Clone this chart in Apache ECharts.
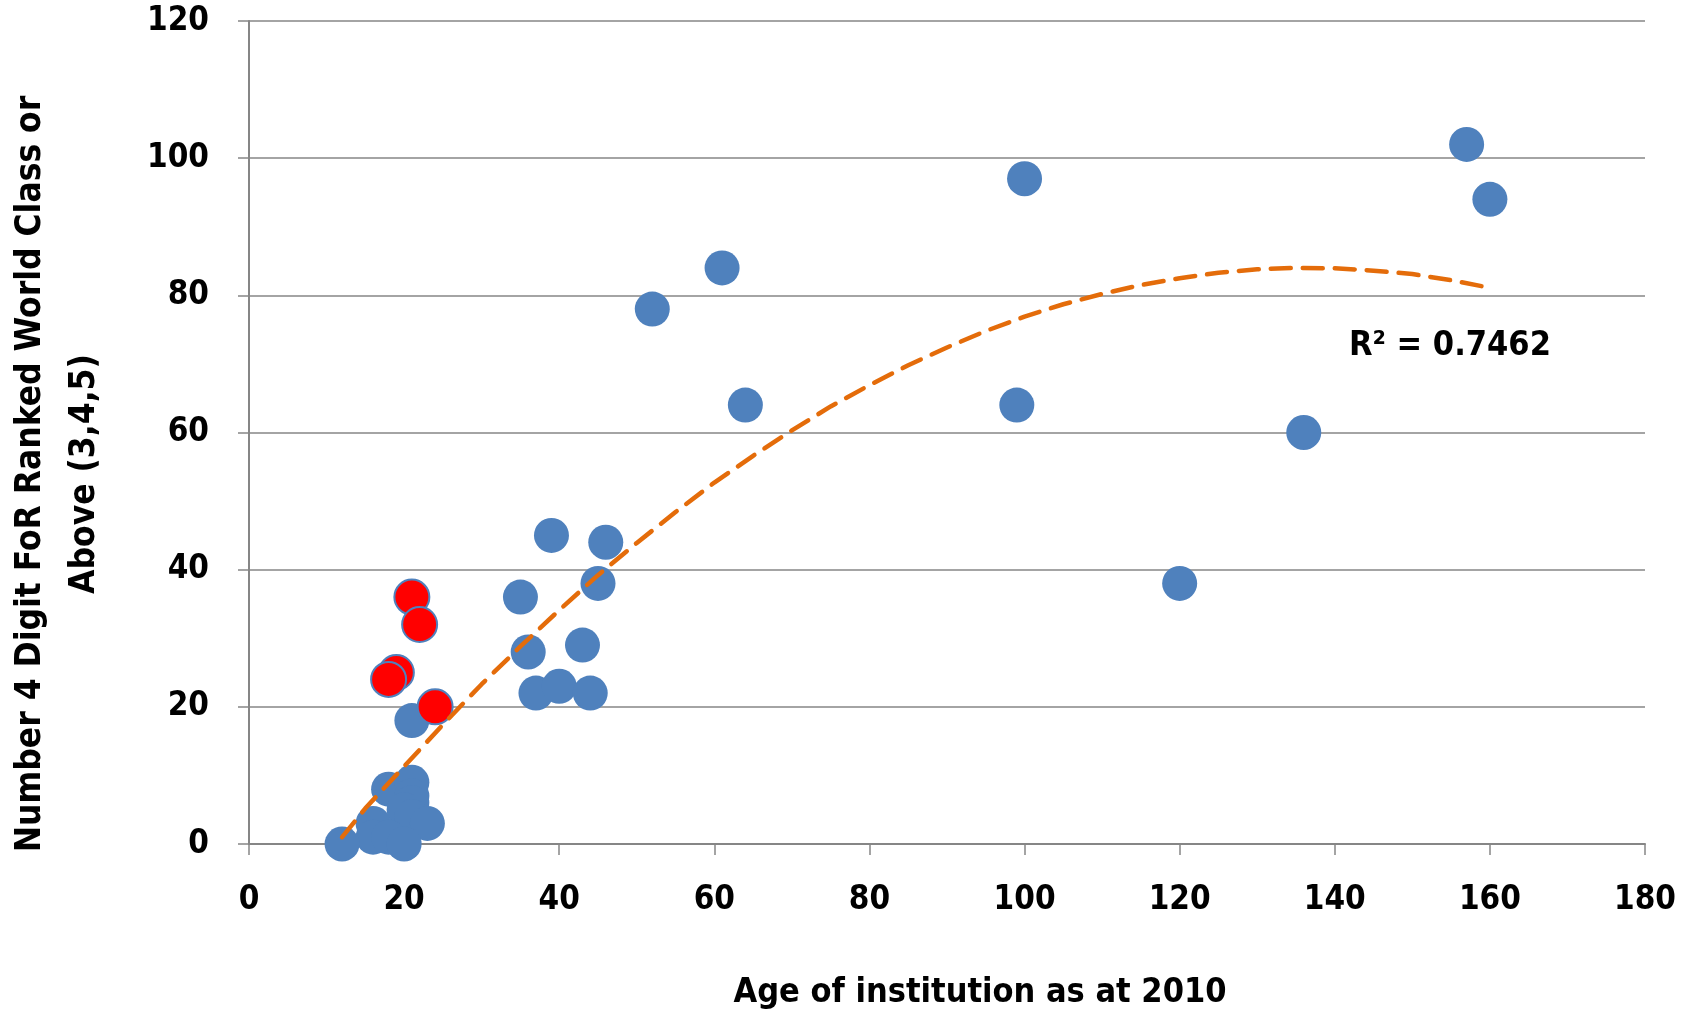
<!DOCTYPE html>
<html><head><meta charset="utf-8">
<script src="https://cdn.jsdelivr.net/npm/echarts@6/dist/echarts.min.js"></script>
<style>html,body{margin:0;padding:0;background:#fff}#c{width:1688px;height:1018px}</style>
</head><body><div id="c"></div>
<script>
// Blue points: [age, count]
const bluePoints = [
  [157,102],[160,94],[100,97],[99,64],[136,60],[120,38],
  [61,84],[52,78],[64,64],[39,45],[46,44],[45,38],[35,36],[36,28],[43,29],
  [37,22],[40,23],[44,22],[21,18],
  [18,8],[21,9],[21,7],[21,6],[20,5],[21,4],[16,3],[23,3],[16,1],[18,1],[20,0],[12,0]
];
// Red highlighted points
const redPoints = [[21,36],[22,32],[19,25],[18,24],[24,20]];
// Polynomial (order 2) trendline
const trendX = [12,15,20,25,30,35,40,45,50,55,60,65,70,75,80,85,90,95,100,105,110,115,120,125,130,135,140,145,150,155,160];
const trendY = [1.0,5.2,11.3,17.4,23.3,28.8,34.1,39.2,43.9,48.4,52.7,56.6,60.3,63.8,66.9,69.8,72.4,74.8,76.9,78.7,80.2,81.5,82.5,83.3,83.8,84.0,83.95,83.6,83.1,82.2,81.1];
const xTicks = [0,20,40,60,80,100,120,140,160,180];
const yTicks = [0,20,40,60,80,100,120];
const xTitle = 'Age of institution as at 2010';
const yTitle = 'Number 4 Digit FoR Ranked World Class or\nAbove (3,4,5)';
const rSquared = 'R² = 0.7462';

const FONT = "'DejaVu Sans Condensed','DejaVu Sans',sans-serif";
const chart = echarts.init(document.getElementById('c'), null, {renderer:'canvas'});
const trend = trendX.map((x,i)=>[x,trendY[i]]);
chart.setOption({
  animation:false,
  grid:{left:249,right:43,top:21,bottom:174,outerBoundsMode:'none',containLabel:false},
  xAxis:{type:'value',min:xTicks[0],max:xTicks[xTicks.length-1],interval:20,
    axisLine:{show:true,lineStyle:{color:'#868686',width:2}},
    axisTick:{show:true,length:11,lineStyle:{color:'#868686',width:1.5}},
    splitLine:{show:false},
    axisLabel:{fontFamily:FONT,fontWeight:'bold',fontSize:33,color:'#000',margin:40}},
  yAxis:{type:'value',min:yTicks[0],max:yTicks[yTicks.length-1],interval:20,
    axisLine:{show:true,lineStyle:{color:'#868686',width:2}},
    axisTick:{show:true,length:11,lineStyle:{color:'#868686',width:1.5}},
    splitLine:{show:true,lineStyle:{color:'#868686',width:1.5}},
    axisLabel:{fontFamily:FONT,fontWeight:'bold',fontSize:33,color:'#000',margin:40}},
  series:[
    {type:'scatter',data:bluePoints,symbolSize:35,z:2,
      itemStyle:{color:'#4F81BD',opacity:1}},
    {type:'scatter',data:redPoints,symbolSize:35,z:3,
      itemStyle:{color:'#FF0000',borderColor:'#4F81BD',borderWidth:2,opacity:1}},
    {type:'line',data:trend,smooth:false,showSymbol:false,z:4,
      lineStyle:{color:'#E46C0A',width:4.5,type:[20,12],cap:'round'}}
  ],
  graphic:[
    {type:'text',x:1349,y:329,style:{text:rSquared,fontFamily:FONT,fontWeight:'bold',fontSize:34,fill:'#000'}},
    {type:'text',x:980,y:993,style:{text:xTitle,fontFamily:FONT,fontWeight:'bold',fontSize:34,fill:'#000',align:'center',verticalAlign:'middle'}},
    {type:'text',x:58,y:474,rotation:Math.PI/2,style:{text:yTitle,fontFamily:FONT,fontWeight:'bold',fontSize:35,lineHeight:54,fill:'#000',align:'center',verticalAlign:'middle'}}
  ]
});
</script></body></html>
